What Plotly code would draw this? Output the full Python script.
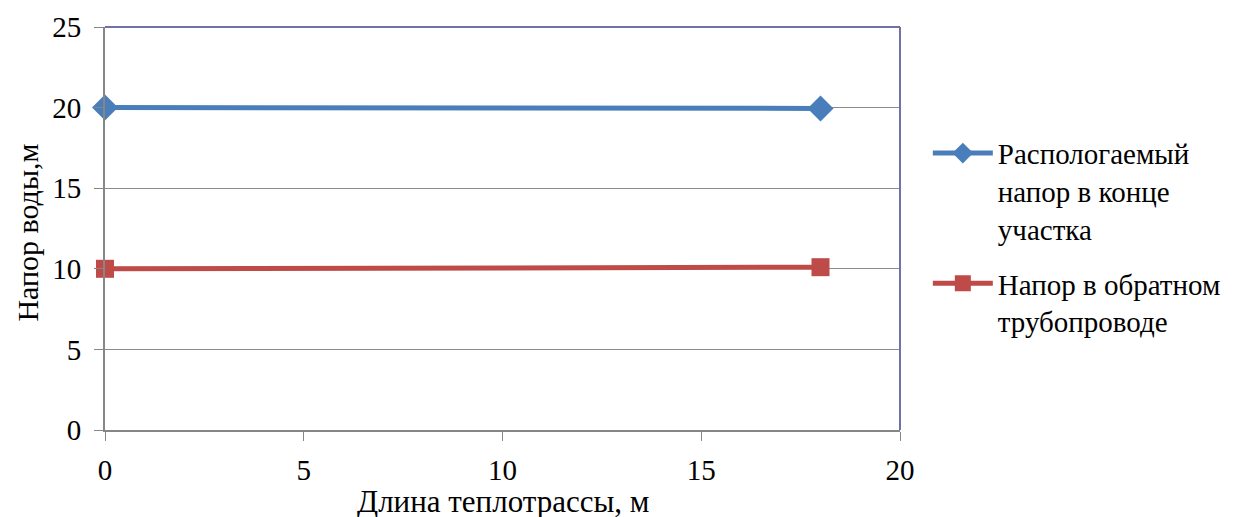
import plotly.graph_objects as go

# distance along the heating main, m
length_m = [0, 18]
# head values, m
head_supply_end = [20.0, 19.95]
head_return = [10.0, 10.1]

name_supply = "Распологаемый<br>напор в конце<br>участка"
name_return = "Напор в обратном<br>трубопроводе"

x_ticks = [0, 5, 10, 15, 20]
y_ticks = [0, 5, 10, 15, 20, 25]

serif = "'Times New Roman', 'Liberation Serif', serif"

fig = go.Figure()
fig.add_trace(go.Scatter(
    x=length_m, y=head_supply_end, name=name_supply, legendgroup="supply",
    mode="lines+markers",
    line=dict(color="#4a7ebb", width=5),
    marker=dict(symbol="diamond", size=20, color="#4a7ebb"),
    cliponaxis=False,
))
fig.add_trace(go.Scatter(
    x=length_m, y=head_return, name=name_return, legendgroup="return",
    mode="lines+markers",
    line=dict(color="#be4b48", width=5),
    marker=dict(symbol="square", size=18, color="#be4b48"),
    cliponaxis=False,
))

# top and right frame of the plot area
frame = "#7171a9"
fig.add_shape(type="line", xref="paper", yref="paper", x0=0, x1=1, y0=1, y1=1,
              line=dict(color=frame, width=2))
fig.add_shape(type="line", xref="paper", yref="paper", x0=1, x1=1, y0=0, y1=1,
              line=dict(color=frame, width=2))

# axis titles
fig.add_annotation(text="Длина теплотрассы, м", xref="paper", yref="paper",
                   x=0.5, y=-0.178, xanchor="center", yanchor="middle",
                   showarrow=False, font=dict(family=serif, size=31))
fig.add_annotation(text="Напор воды,м", xref="paper", yref="paper",
                   x=-0.098, y=0.49, xanchor="center", yanchor="middle", textangle=-90,
                   showarrow=False, font=dict(family=serif, size=30))

fig.update_layout(
    width=1243, height=517,
    margin=dict(l=97, r=351, t=19, b=95),
    paper_bgcolor="white", plot_bgcolor="white",
    font=dict(family=serif, size=29, color="black"),
    showlegend=True,
    legend=dict(x=1.035, y=0.75, xanchor="left", yanchor="top", valign="top",
                font=dict(family=serif, size=29), tracegroupgap=14, itemwidth=60),
    xaxis=dict(
        range=[0, 20], tickvals=x_ticks, showgrid=False, zeroline=False,
        showline=True, linecolor="#868686", linewidth=2, automargin=False,
        ticks="outside", ticklen=9, tickcolor="#868686", tickwidth=1,
        ticklabelstandoff=4,
        tickfont=dict(family=serif, size=29),
    ),
    yaxis=dict(
        range=[0, 25], tickvals=y_ticks, showgrid=True, gridcolor="#8c8c8c",
        gridwidth=1, zeroline=False,
        showline=True, linecolor="#868686", linewidth=2, automargin=False,
        ticks="outside", ticklen=9, tickcolor="#868686", tickwidth=1,
        ticklabelstandoff=7,
        tickfont=dict(family=serif, size=29),
    ),
)

fig.write_html("out.html")
